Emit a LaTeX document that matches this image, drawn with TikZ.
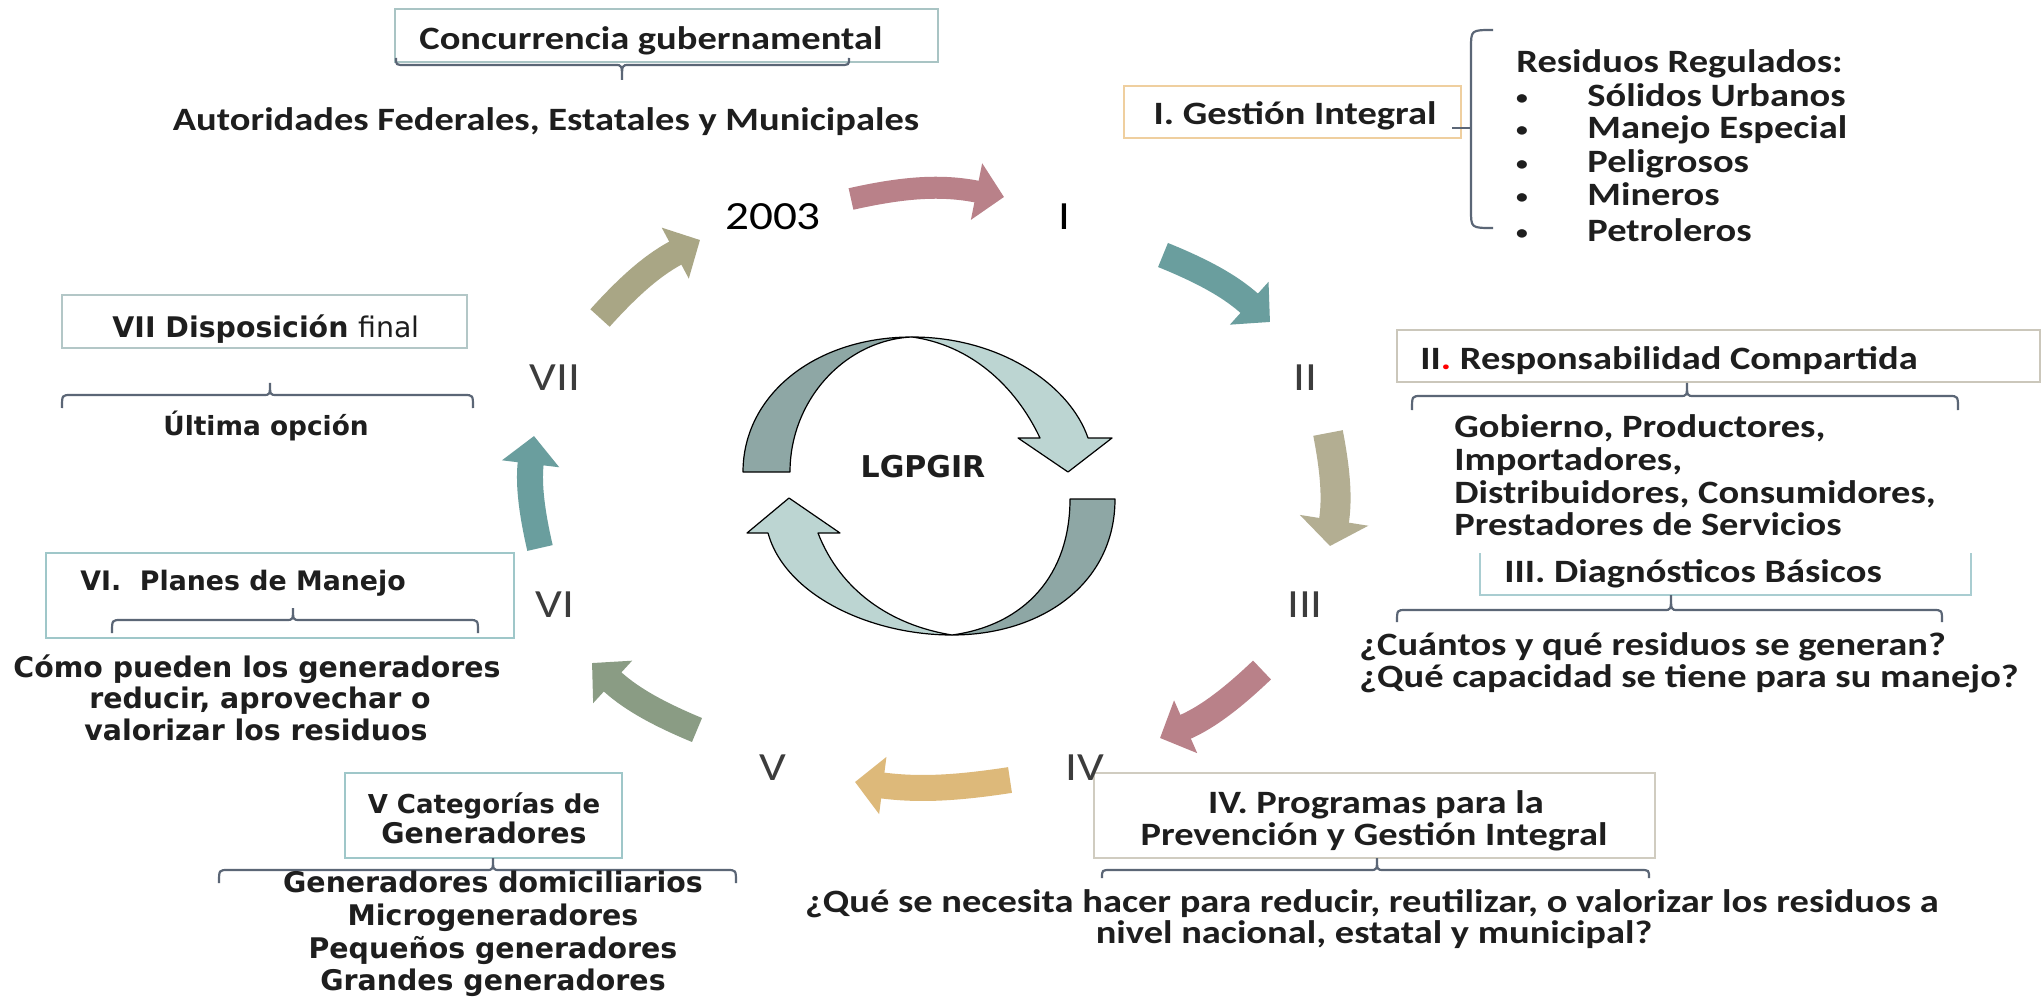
\documentclass[tikz,border=0pt]{standalone}
\usepackage{fontspec}
\usetikzlibrary{arrows.meta}
\newfontfamily\calfont{Carlito}[FakeStretch=1.18]
\newfontfamily\verfont{DejaVu Sans}
\definecolor{txt}{HTML}{1E1E1E}
\definecolor{numC}{HTML}{3C3C3C}
\definecolor{braceC}{HTML}{5B6676}
\definecolor{bCon}{HTML}{A9C4C4}
\definecolor{bGI}{HTML}{EFCF9F}
\definecolor{bII}{HTML}{CBC7BB}
\definecolor{bIII}{HTML}{A9CDD1}
\definecolor{bIV}{HTML}{D0CCC0}
\definecolor{bV}{HTML}{9FC7C9}
\definecolor{bVII}{HTML}{B3C7C7}
\definecolor{cRose}{HTML}{B98189}
\definecolor{cTeal}{HTML}{6A9E9E}
\definecolor{cOlive}{HTML}{B3AE92}
\definecolor{cKhaki}{HTML}{A9A685}
\definecolor{cGold}{HTML}{DDB97A}
\definecolor{cGreen}{HTML}{8A9C84}
\definecolor{cDark}{HTML}{8EA7A5}
\definecolor{cLight}{HTML}{BCD5D2}
\newcommand{\mybrace}[6]{%
  \draw[brc] (#1,{#4+#5}) .. controls (#1,#4) .. ({#1+9},#4) -- ({#3-7},#4)
    .. controls (#3,#4) .. (#3,#6) .. controls (#3,#4) .. ({#3+7},#4)
    -- ({#2-9},#4) .. controls (#2,#4) .. (#2,{#4+#5});}
\begin{document}
\begin{tikzpicture}[x=0.5pt,y=-0.5pt,
  cal/.style={font=\calfont\bfseries\fontsize{16.3}{16.5}\selectfont, text=txt, inner sep=0pt},
  ver/.style={font=\verfont\bfseries\fontsize{14.2}{16}\selectfont, text=txt, inner sep=0pt},
  num/.style={font=\calfont\fontsize{20}{20}\selectfont, text=numC, inner sep=0pt},
  bul/.style={font=\calfont\bfseries\fontsize{10}{10}\selectfont, text=txt, inner sep=0pt},
  box/.style={draw=#1, line width=1.2pt, inner sep=0pt, outer sep=0pt},
  brc/.style={draw=braceC, line width=1.1pt},
  flow/.style={line width=13pt, -{Triangle[width=28pt,length=14pt]}},
  ring/.style={draw=black, line width=0.6pt, line join=round}]
\fill[white] (0,0) rectangle (2044,1000);
\useasboundingbox (0,0) rectangle (2044,1000);

% ---------- boxes ----------
\node[box=bCon, minimum width=271.5pt, minimum height=26.5pt] (bxCon) at (666.5,35.5) {};
\node[box=bGI, minimum width=168.5pt, minimum height=26pt] (bxGI) at (1292.5,112) {};
\node[box=bII, minimum width=321.5pt, minimum height=26pt] (bxII) at (1718.5,356) {};
\node[box=bIV, minimum width=280.5pt, minimum height=42.5pt] (bxIV) at (1374.5,815.5) {};
\node[box=bV, minimum width=138.5pt, minimum height=42.5pt] (bxV) at (483.5,815.5) {};
\node[box=bV, minimum width=234pt, minimum height=42.5pt] (bxVI) at (280,595.5) {};
\node[box=bVII, minimum width=202.5pt, minimum height=26.5pt] (bxVII) at (264.5,321.5) {};
\draw[draw=bIII, line width=1.2pt] (1480,553) -- (1480,595) -- (1971,595) -- (1971,553);

% ---------- braces ----------
\mybrace{396}{849}{622}{65}{-7}{80}
\mybrace{62}{473}{270}{395}{13}{383}
\mybrace{1412}{1958}{1687}{396}{14}{383}
\mybrace{1397}{1942}{1671}{610}{12}{595}
\mybrace{1102}{1649}{1377}{870}{8}{858}
\mybrace{219}{736}{493}{870}{13}{858}
\mybrace{112}{478}{293}{620}{13}{608}
\draw[brc] (1493,30) .. controls (1471,30) .. (1471,48) -- (1471,210) .. controls (1471,228) .. (1493,228);
\coordinate (gtick) at (1452,128);
\coordinate (gbrk) at (1471,128);
\draw[brc] (gtick) -- (gbrk);

% ---------- texts ----------
\node[cal, anchor=base] (tCon) at (651,50) {Concurrencia gubernamental};
\node[cal, anchor=base] (tAut) at (546,131) {Autoridades Federales, Estatales y Municipales};
\node[cal, anchor=base] (tGI) at (1295,125) {I. Gestión Integral};
\node[cal, anchor=base west] (tRR) at (1516,73) {Residuos Regulados:};
\node[bul, anchor=base] (bu1) at (1522,105) {•};
\node[bul, anchor=base] (bu2) at (1522,137) {•};
\node[bul, anchor=base] (bu3) at (1522,171) {•};
\node[bul, anchor=base] (bu4) at (1522,204) {•};
\node[bul, anchor=base] (bu5) at (1522,240) {•};
\node[cal, anchor=base west] (it1) at (1587,107) {Sólidos Urbanos};
\node[cal, anchor=base west] (it2) at (1587,139) {Manejo Especial};
\node[cal, anchor=base west] (it3) at (1587,173) {Peligrosos};
\node[cal, anchor=base west] (it4) at (1587,206) {Mineros};
\node[cal, anchor=base west] (it5) at (1587,242) {Petroleros};

\node[cal, anchor=base west] (tII) at (1420,369) {II\textcolor{red}{.} Responsabilidad Compartida};
\node[cal, anchor=base west] (g1) at (1454,437) {Gobierno, Productores,};
\node[cal, anchor=base west] (g2) at (1454,470) {Importadores,};
\node[cal, anchor=base west] (g3) at (1454,503) {Distribuidores, Consumidores,};
\node[cal, anchor=base west] (g4) at (1454,535) {Prestadores de Servicios};

\node[cal, anchor=base west] (tIII) at (1504,582) {III. Diagnósticos Básicos};
\node[cal, anchor=base west] (q1) at (1359,655) {¿Cuántos y qué residuos se generan?};
\node[cal, anchor=base west] (q2) at (1359,687) {¿Qué capacidad se tiene para su manejo?};

\node[cal, anchor=base] (tIVa) at (1376,813) {IV. Programas para la};
\node[cal, anchor=base] (tIVb) at (1374,845) {Prevención y Gestión Integral};
\node[cal, anchor=base] (p1) at (1372,912) {¿Qué se necesita hacer para reducir, reutilizar, o valorizar los residuos a};
\node[cal, anchor=base] (p2) at (1374,943) {nivel nacional, estatal y municipal?};

\node[ver, anchor=base, font=\verfont\bfseries\fontsize{13}{15}\selectfont] (tVa) at (484,813) {V Categorías de};
\node[ver, anchor=base] (tVb) at (484,843) {Generadores};
\node[ver, anchor=base] (v1) at (493,892) {Generadores domiciliarios};
\node[ver, anchor=base] (v2) at (493,925) {Microgeneradores};
\node[ver, anchor=base] (v3) at (493,958) {Pequeños generadores};
\node[ver, anchor=base] (v4) at (493,990) {Grandes generadores};

\node[ver, anchor=base west, font=\verfont\bfseries\fontsize{13.4}{15}\selectfont] (tVI) at (80,590) {VI.\ \ Planes de Manejo};
\node[ver, anchor=base] (c1) at (257,677) {Cómo pueden los generadores};
\node[ver, anchor=base] (c2) at (260,708) {reducir, aprovechar o};
\node[ver, anchor=base] (c3) at (256,740) {valorizar los residuos};

\node[ver, anchor=base] (tVII) at (266,337) {VII Disposición {\mdseries final}};
\node[ver, anchor=base, font=\verfont\bfseries\fontsize{13.2}{15}\selectfont] (tUlt) at (266,435) {Última opción};

% ---------- cycle labels ----------
\node[num, anchor=base, text=black] (n2003) at (773,230) {2003};
\node[num, anchor=base, text=black] (nI) at (1064,230) {I};
\node[num, anchor=base] (nII) at (1305,390) {II};
\node[num, anchor=base] (nIII) at (1305,617) {III};
\node[num, anchor=base] (nIV) at (1085,780) {IV};
\node[num, anchor=base] (nV) at (773,780) {V};
\node[num, anchor=base] (nVI) at (555,617) {VI};
\node[num, anchor=base] (nVII) at (555,390) {VII};

% ---------- cycle arrows ----------
\coordinate (a1s) at (851,199);  \coordinate (a1e) at (1004,197);
\coordinate (a2s) at (1163,255); \coordinate (a2e) at (1270,322);
\coordinate (a3s) at (1328,433); \coordinate (a3e) at (1330,546);
\coordinate (a4s) at (1262,670); \coordinate (a4e) at (1160,738);
\coordinate (a5s) at (1010,780); \coordinate (a5e) at (855,782);
\coordinate (a6s) at (697,730);  \coordinate (a6e) at (592,663);
\coordinate (a7s) at (540,548);  \coordinate (a7e) at (534,436);
\coordinate (a8s) at (600,318);  \coordinate (a8e) at (700,240);
\draw[flow, cRose, line width=11pt] (a1s) to[bend left=12] (a1e);
\draw[flow, cTeal] (a2s) to[bend left=10] (a2e);
\draw[flow, cOlive, line width=15pt, -{Triangle[width=34pt,length=13pt]}] (a3s) to[bend left=10] (a3e);
\draw[flow, cRose] (a4s) to[bend left=10] (a4e);
\draw[flow, cGold] (a5s) to[bend left=8] (a5e);
\draw[flow, cGreen] (a6s) to[bend left=10] (a6e);
\draw[flow, cTeal] (a7s) to[bend left=10] (a7e);
\draw[flow, cKhaki] (a8s) to[bend left=10] (a8e);

% ---------- central circular arrows ----------
\fill[cDark, ring] (743,472) .. controls (743,395) and (815,337) .. (912,337)
   .. controls (845,340) and (790,400) .. (790,472) -- cycle;
\fill[cLight, ring] (912,337) .. controls (1000,337) and (1070,385) .. (1088,438)
   -- (1112,438) -- (1068,472) -- (1018,438) -- (1040,438)
   .. controls (1015,385) and (970,345) .. (912,337) -- cycle;
\fill[cDark, ring] (1115,499) .. controls (1115,585) and (1040,635) .. (952,635)
   .. controls (1025,625) and (1070,575) .. (1070,499) -- cycle;
\fill[cLight, ring] (952,635) .. controls (870,635) and (785,595) .. (768,533)
   -- (747,533) -- (789,498) -- (840,533) -- (818,533)
   .. controls (840,590) and (890,625) .. (952,635) -- cycle;
\node[font=\verfont\bfseries\fontsize{15}{15}\selectfont, text=txt, inner sep=0pt, anchor=base] (lg) at (923,477) {LGPGIR};
\end{tikzpicture}
\end{document}
